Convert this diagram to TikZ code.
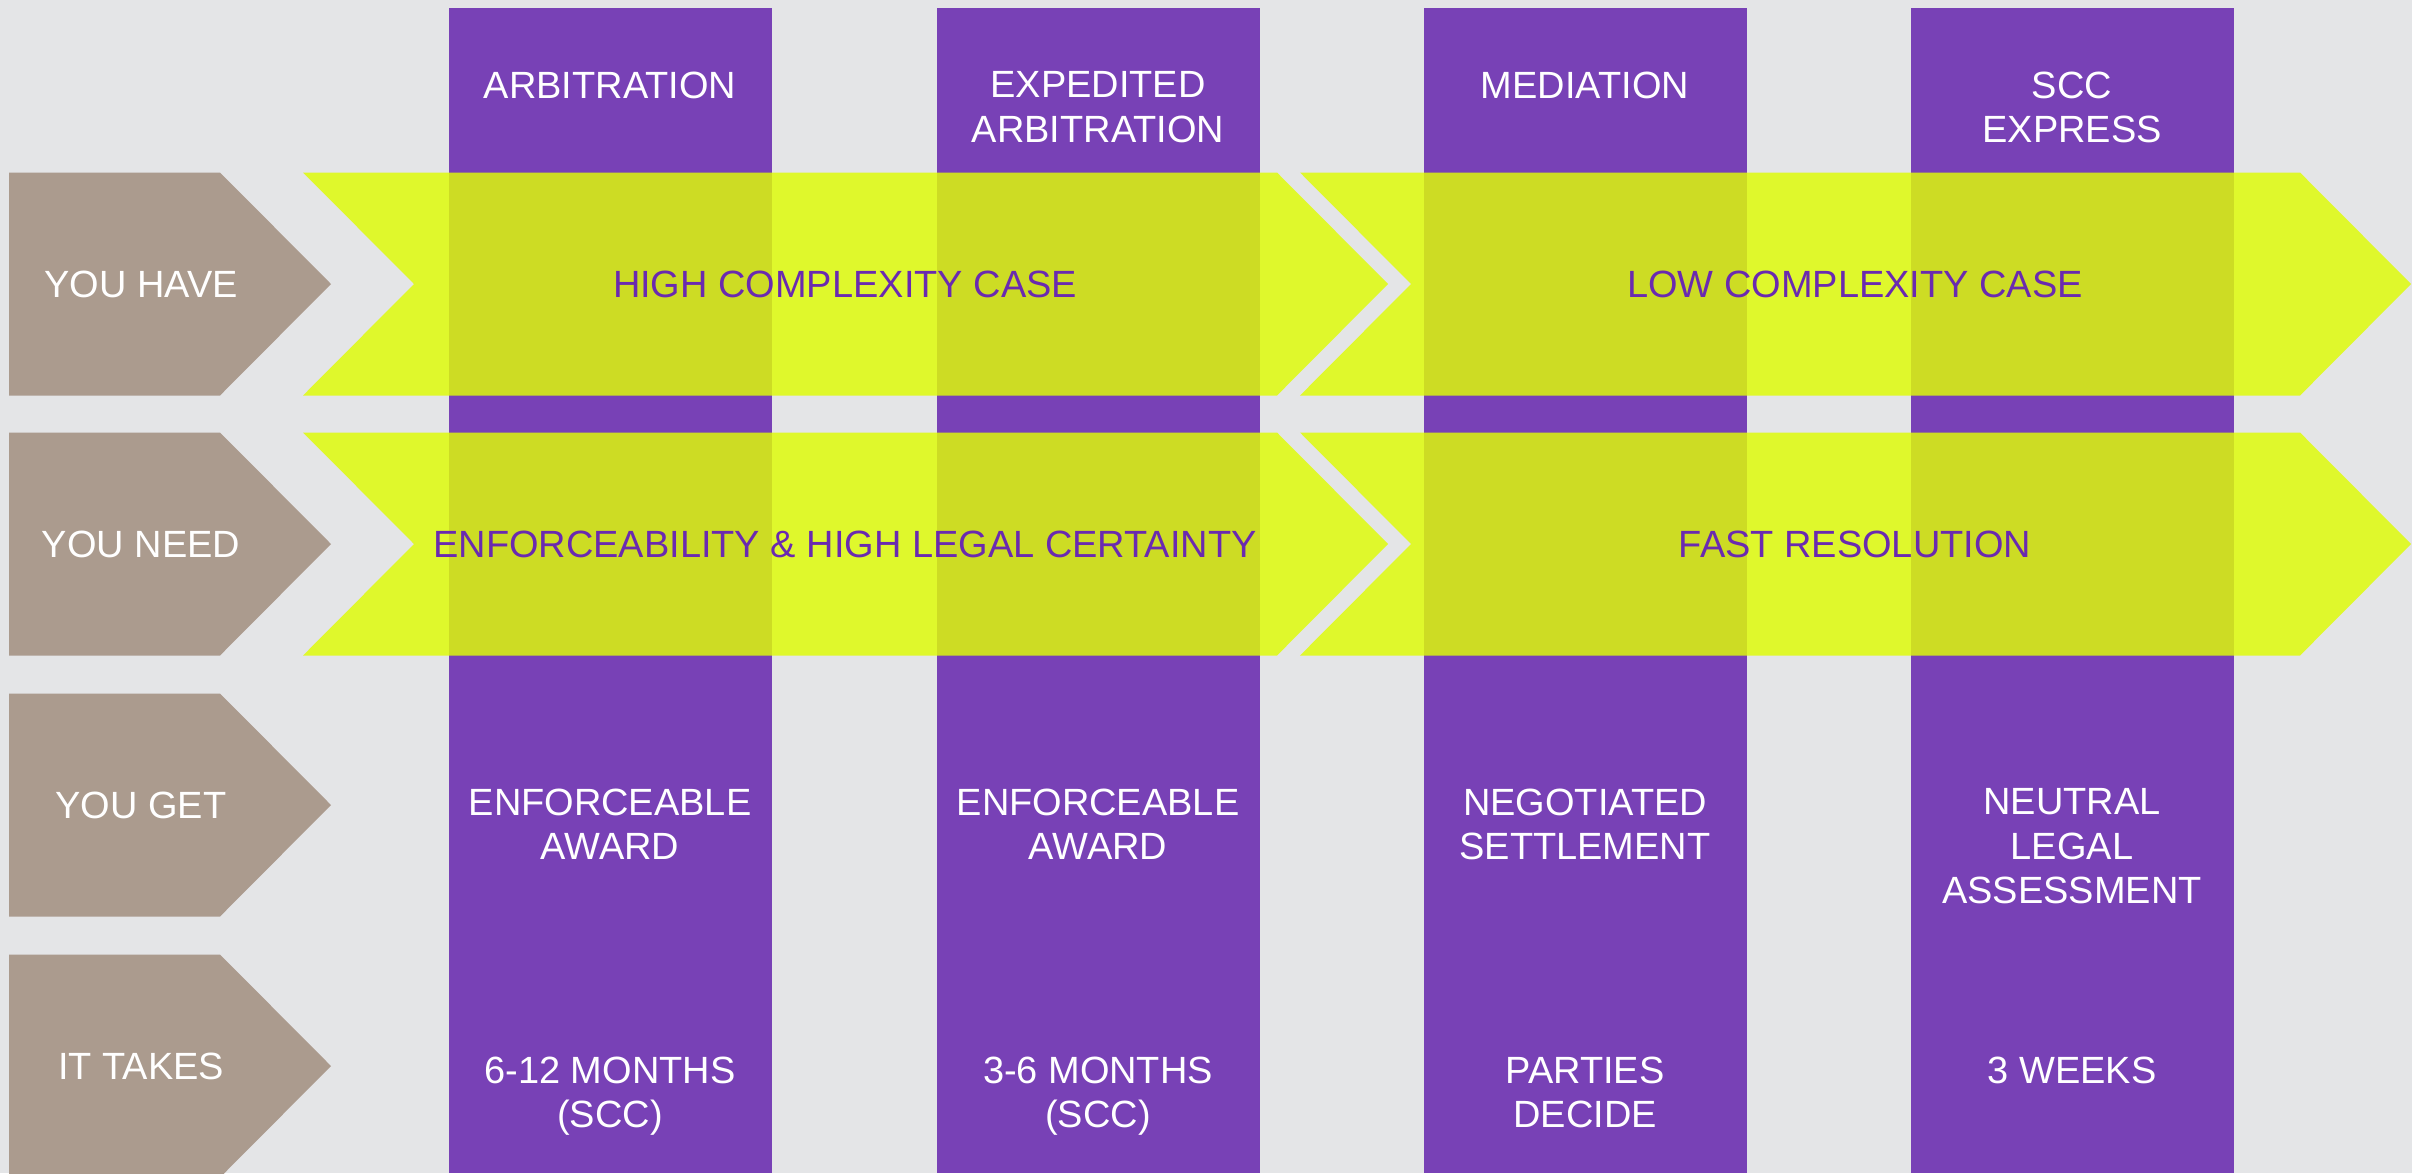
\documentclass[tikz,border=0pt]{standalone}
\usepackage{fontspec}
\setmainfont{Liberation Sans}
\usetikzlibrary{positioning}

\definecolor{bggrey}{HTML}{E4E5E7}
\definecolor{stepgrey}{HTML}{AB9B8E}
\definecolor{colpurple}{HTML}{7841B6}
\definecolor{txtpurple}{HTML}{6A2AB0}
\definecolor{lime}{RGB}{223,252,7}

\begin{document}
\begin{tikzpicture}[x=0.1mm, y=-0.1mm,
    caption/.style={font=\fontsize{10.8}{12.6}\selectfont, text=white, align=center, inner sep=0pt},
    topline/.style={caption, anchor=north},
    bandtext/.style={caption, text=txtpurple},
    band/.style={fill=lime, fill opacity=0.83}]
    % Canvas
    \fill[bggrey] (0,0) rectangle (2412,1173);
    \useasboundingbox (0,0) rectangle (2412,1173);
%
    % Row labels (grey steps on the left)
    \foreach \y/\name/\txt in {284/have/YOU HAVE, 544/need/YOU NEED, 805/get/YOU GET, 1066/takes/IT TAKES} {
        \fill[stepgrey] (9,\y-111.5) -- (220,\y-111.5) -- (331,\y) -- (220,\y+111.5) -- (9,\y+111.5) -- cycle;
        \node[caption] (\name) at (141,\y) {\txt};
    }
%
    % Purple columns
    \foreach \x in {449, 937, 1424, 1911}
        \fill[colpurple] (\x,8) rectangle (\x+323,1173);
%
    % Column headers
    \node[topline] (arb) at (610,71) {ARBITRATION};
    \node[topline] (exp) at (1098,71) {EXPEDITED\\ARBITRATION};
    \node[topline] (med) at (1585,71) {MEDIATION};
    \node[topline] (scc) at (2072,71) {SCC\\EXPRESS};
%
    % Yellow bands, two per row
    \foreach \y in {284, 544} {
        \fill[band] (303,\y-111.5) -- (1277,\y-111.5) -- (1388,\y) -- (1277,\y+111.5)
            -- (303,\y+111.5) -- (414,\y) -- cycle;
        \fill[band] (1300,\y-111.5) -- (2300,\y-111.5) -- (2411,\y) -- (2300,\y+111.5)
            -- (1300,\y+111.5) -- (1411,\y) -- cycle;
    }
    \node[bandtext] (high) at (845,284) {HIGH COMPLEXITY CASE};
    \node[bandtext] (low) at (1855,284) {LOW COMPLEXITY CASE};
    \node[bandtext] (enf) at (845,544) {ENFORCEABILITY \& HIGH LEGAL CERTAINTY};
    \node[bandtext] (fast) at (1855,544) {FAST RESOLUTION};
%
    % What you get
    \node[topline] (arbget) at (610,788) {ENFORCEABLE\\AWARD};
    \node[topline] (expget) at (1098,788) {ENFORCEABLE\\AWARD};
    \node[topline] (medget) at (1585,788) {NEGOTIATED\\SETTLEMENT};
    \node[topline] (sccget) at (2072,788) {NEUTRAL\\LEGAL\\ASSESSMENT};
%
    % How long it takes
    \node[topline] (arbtime) at (610,1056) {6-12 MONTHS\\(SCC)};
    \node[topline] (exptime) at (1098,1056) {3-6 MONTHS\\(SCC)};
    \node[topline] (medtime) at (1585,1056) {PARTIES\\DECIDE};
    \node[topline] (scctime) at (2072,1056) {3 WEEKS};
\end{tikzpicture}
\end{document}
